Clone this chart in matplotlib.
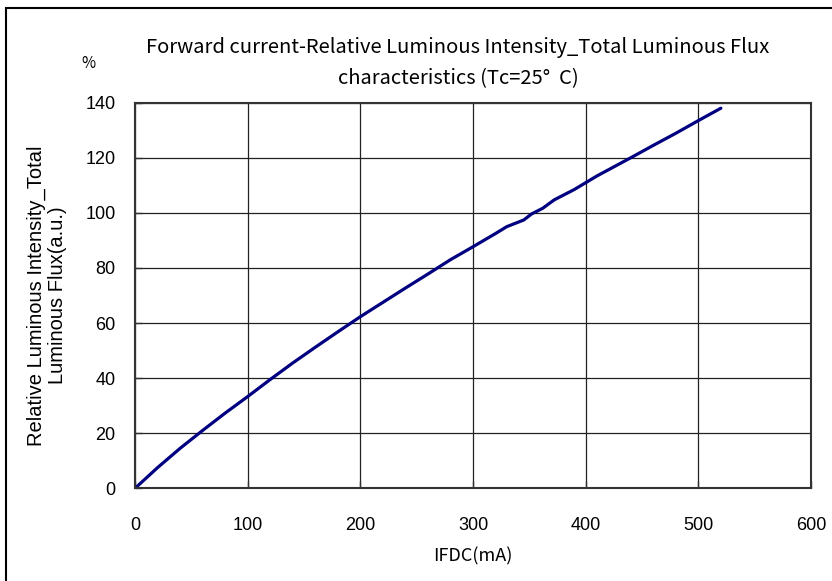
import numpy as np
import matplotlib.pyplot as plt
from matplotlib.patches import Rectangle

# Forward current (mA) vs relative luminous intensity (%)
current_ma = [0, 20, 40, 60, 80, 100, 120, 140, 160, 180, 200, 220, 240, 260, 280,
              300, 320, 330, 345, 352, 362, 372, 390, 410, 440, 460, 480, 500, 520]
rel_flux = [0, 7.5, 14.5, 21, 27.3, 33.3, 39.5, 45.5, 51.2, 56.8, 62.3, 67.5, 72.7, 77.8, 83,
            87.7, 92.5, 95.0, 97.4, 99.6, 101.7, 104.7, 108.5, 113.4, 120, 124.5, 128.9, 133.5, 138]

x_ticks = [0, 100, 200, 300, 400, 500, 600]
y_ticks = [0, 20, 40, 60, 80, 100, 120, 140]

title_font = ['Noto Sans CJK JP', 'DejaVu Sans']
plt.rcParams['font.family'] = ['Liberation Sans', 'DejaVu Sans']

fig = plt.figure(figsize=(8.32, 5.81), dpi=100)
ax = fig.add_axes([135 / 832, 1 - 488.3 / 581, (811 - 135) / 832, (488.3 - 102.7) / 581])

ax.plot(current_ma, rel_flux, color="#000080", linewidth=2.3, solid_capstyle='round')

ax.set_xlim(0, 600)
ax.set_ylim(0, 140)
ax.set_xticks(x_ticks)
ax.set_yticks(y_ticks)
ax.tick_params(direction='in', length=5, width=1, labelsize=13, color='#333333')
ax.tick_params(axis='x', pad=21)
ax.tick_params(axis='y', pad=14)
ax.grid(True, color='#222222', linewidth=0.9)
for s in ax.spines.values():
    s.set_color('#333333')
    s.set_linewidth(1.5)

ax.set_xlabel("IFDC(mA)", fontsize=13, family=title_font, labelpad=9)
ax.set_ylabel("Relative Luminous Intensity_Total\nLuminous Flux(a.u.)", fontsize=14.5,
              labelpad=13.5, linespacing=1.1)

fig.text(458 / 832, 1 - 63 / 581,
         "Forward current-Relative Luminous Intensity_Total Luminous Flux\ncharacteristics (Tc=25°  C)",
         ha='center', va='center', fontsize=14.5, family=title_font, linespacing=1.6)
fig.text(88 / 832, 1 - 64 / 581, "%", ha='center', va='center', fontsize=11, family=title_font)

# outer border of the chart area
fig.patches.append(Rectangle((6 / 832, -0.02), 1.05, 1 - 8 / 581 + 0.02, transform=fig.transFigure,
                             fill=False, edgecolor='black', linewidth=1.5))

fig.savefig("out.png", dpi=100)
